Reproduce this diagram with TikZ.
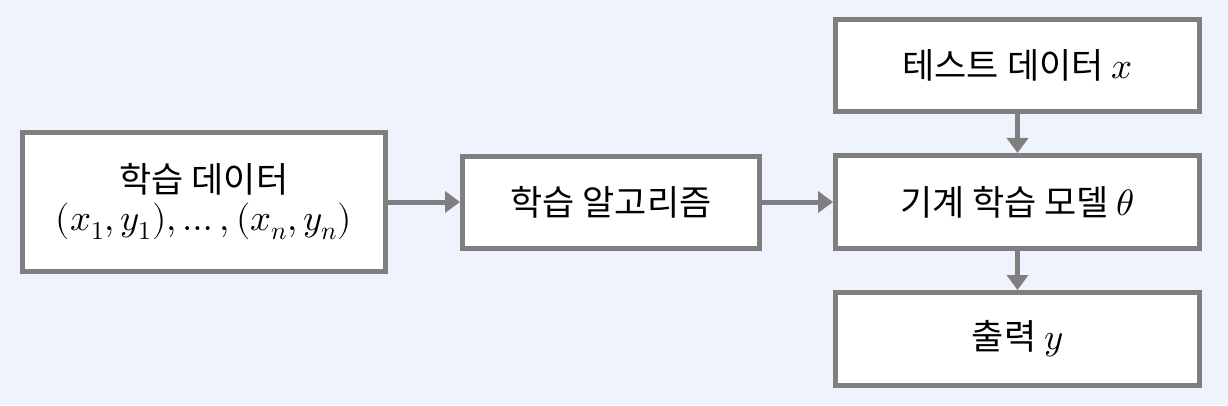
\documentclass[tikz,border=0pt]{standalone}
\usepackage{unicode-math}
\setmainfont{Noto Sans CJK KR}
\setmathfont{Latin Modern Math}[Scale=1.05]
\usetikzlibrary{arrows.meta}
\definecolor{bg}{HTML}{EEF3FD}
\definecolor{bd}{HTML}{7F7F7F}
\begin{document}
\begin{tikzpicture}[x=1pt,y=1pt,
  box/.style={draw=bd,fill=white,line width=5pt,inner sep=0pt,
    font=\fontsize{35}{44}\selectfont,align=center},
  conn/.style={draw=bd,line width=5pt,-{Triangle[length=15pt,width=21pt]}}]
\fill[bg] (0,0) rectangle (1228,405);
\useasboundingbox (0,0) rectangle (1228,405);
\node[box,minimum width=363pt,minimum height=138pt] (train) at (204,203)
  {학습 데이터\\[-6pt]$(x_1,y_1),\ldots,(x_n,y_n)$};
\node[box,minimum width=297pt,minimum height=92pt] (algo) at (611,203) {학습 알고리즘};
\node[box,minimum width=364pt,minimum height=92pt] (test) at (1017.5,339.5) {테스트 데이터 $x$};
\node[box,minimum width=364pt,minimum height=93pt] (model) at (1017.5,203) {기계 학습 모델 $\theta$};
\node[box,minimum width=364pt,minimum height=93pt] (out) at (1017.5,66) {출력 $y$};
\draw[conn] (train.east) -- (algo.west);
\draw[conn] (algo.east) -- (model.west);
\draw[conn] (test.south) -- (model.north);
\draw[conn] (model.south) -- (out.north);
\end{tikzpicture}
\end{document}
